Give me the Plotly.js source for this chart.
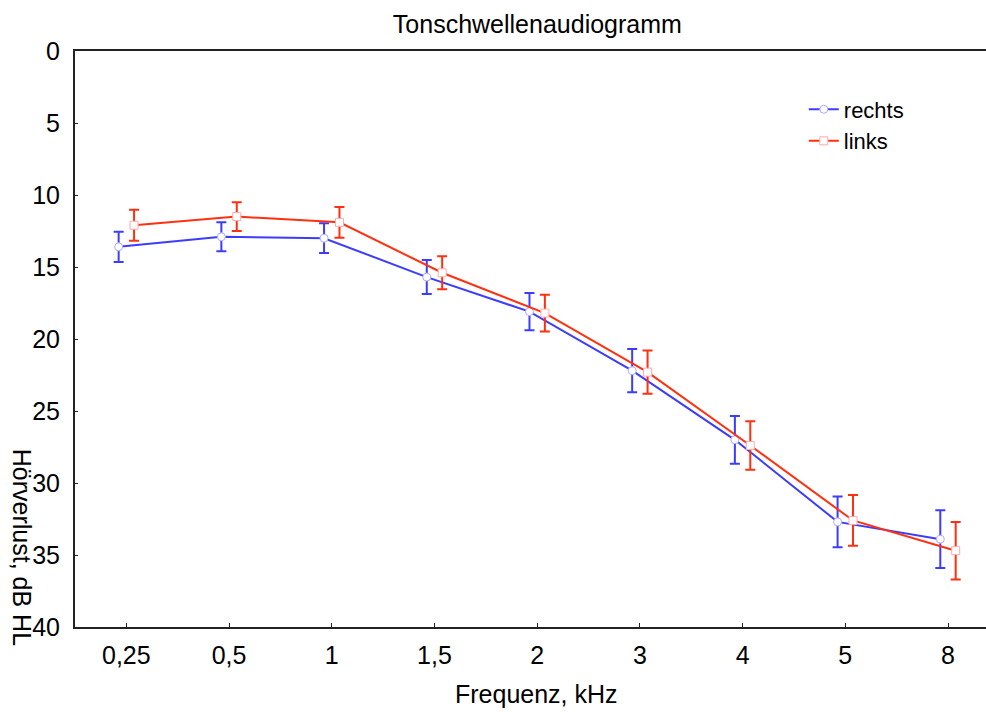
<!DOCTYPE html>
<html>
<head>
<meta charset="utf-8">
<script src="https://cdn.plot.ly/plotly-3.0.1.min.js"></script>
<style>html,body{margin:0;padding:0;background:#fff;}#chart{width:986px;height:712px;}</style>
</head>
<body>
<div id="chart"></div>
<script>
const categories = ["0,25", "0,5", "1", "1,5", "2", "3", "4", "5", "8"];
const rechtsValues = [13.6, 12.9, 13.0, 15.7, 18.1, 22.2, 27.0, 32.7, 33.9];
const rechtsErrors = [1.05, 1.0, 1.03, 1.18, 1.3, 1.5, 1.66, 1.76, 2.0];
const linksValues = [12.1, 11.5, 11.9, 15.4, 18.2, 22.3, 27.4, 32.6, 34.7];
const linksErrors = [1.07, 1.0, 1.07, 1.15, 1.28, 1.5, 1.68, 1.76, 2.0];
const yTicks = [0, 5, 10, 15, 20, 25, 30, 35, 40];
const offset = 0.075;

const catIdx = categories.map((c, i) => i);
const font = "Liberation Sans, Arial, sans-serif";
const blue = "rgb(60,60,255)";
const red = "rgb(255,48,16)";
const fs = 25;

const traces = [
  {
    name: "rechts",
    x: catIdx.map(i => i - offset),
    y: rechtsValues,
    type: "scatter",
    mode: "lines+markers",
    line: {color: blue, width: 2},
    marker: {symbol: "circle", size: 8, color: "white", line: {color: "rgb(170,170,255)", width: 1}},
    error_y: {type: "data", array: rechtsErrors, visible: true, color: blue, thickness: 2, width: 5}
  },
  {
    name: "links",
    x: catIdx.map(i => i + offset),
    y: linksValues,
    type: "scatter",
    mode: "lines+markers",
    line: {color: red, width: 2},
    marker: {symbol: "square", size: 8, color: "white", line: {color: "rgb(255,170,170)", width: 1}},
    error_y: {type: "data", array: linksErrors, visible: true, color: red, thickness: 2, width: 5}
  }
];

const layout = {
  width: 986,
  height: 712,
  margin: {l: 75, r: 0, t: 51, b: 85},
  paper_bgcolor: "white",
  plot_bgcolor: "white",
  font: {family: font, size: fs, color: "black"},
  title: {text: "Tonschwellenaudiogramm", x: 0.545, xanchor: "center", y: 0.966, yanchor: "middle", font: {family: font, size: fs, color: "black"}},
  xaxis: {
    range: [-0.5, 8.37],
    tickmode: "array",
    tickvals: catIdx,
    ticktext: categories,
    ticks: "inside",
    ticklen: 4,
    tickwidth: 1,
    tickcolor: "#222",
    showline: true,
    linecolor: "#222",
    linewidth: 2,
    mirror: true,
    showgrid: false,
    zeroline: false,
    ticklabelstandoff: 5,
    tickfont: {family: font, size: fs, color: "black"}
  },
  yaxis: {
    range: [40, 0],
    tickmode: "array",
    tickvals: yTicks,
    ticktext: yTicks.map(String),
    ticks: "inside",
    ticklen: 3,
    tickwidth: 1,
    tickcolor: "#222",
    showline: true,
    linecolor: "#222",
    linewidth: 2,
    showgrid: false,
    zeroline: false,
    ticklabelstandoff: 8,
    tickfont: {family: font, size: fs, color: "black"}
  },
  showlegend: true,
  legend: {
    x: 0.8, y: 0.935, xanchor: "left", yanchor: "top",
    bgcolor: "rgba(0,0,0,0)",
    font: {family: font, size: 22, color: "black"},
    tracegroupgap: 0,
    itemwidth: 30
  },
  annotations: [
    {
      text: "Hörverlust, dB HL",
      xref: "paper", yref: "paper",
      x: -0.058, y: 0.139,
      xanchor: "center", yanchor: "middle",
      textangle: 90,
      showarrow: false,
      font: {family: font, size: fs, color: "black"}
    },
    {
      text: "Frequenz, kHz",
      xref: "paper", yref: "paper",
      x: 0.507, y: -0.117,
      xanchor: "center", yanchor: "middle",
      showarrow: false,
      font: {family: font, size: fs, color: "black"}
    }
  ]
};

Plotly.newPlot("chart", traces, layout, {displayModeBar: false, staticPlot: true});
</script>
</body>
</html>
